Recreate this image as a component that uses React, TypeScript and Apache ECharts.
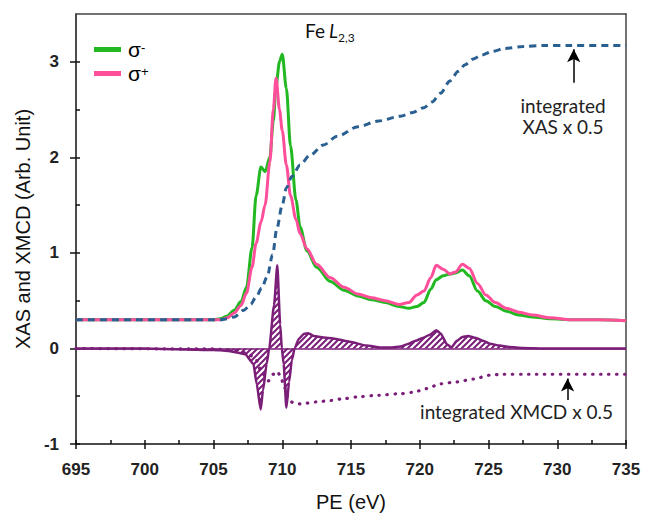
import React, { useEffect, useRef } from "react";
import * as echarts from "echarts";

// ---------- data ----------
const E_XAS = [695, 700, 705, 705.5, 706, 706.5, 707, 707.4, 707.8, 708.1, 708.45, 708.75, 709.1, 709.35, 709.55, 709.8, 710, 710.3, 710.6, 711, 711.3, 711.8, 712.5, 713.5, 714.5, 715.5, 716.5, 717.5, 718.5, 719.2, 719.8, 720.3, 720.8, 721.2, 721.7, 722.2, 722.6, 723.1, 723.6, 724.2, 724.8, 725.5, 726.3, 727.2, 728.2, 729.5, 731, 733, 735];
const SIGMA_MINUS = [0.3, 0.3, 0.3, 0.31, 0.34, 0.4, 0.49, 0.64, 1.05, 1.6, 1.9, 1.85, 2.0, 2.38, 2.75, 3.0, 3.08, 2.72, 2.12, 1.55, 1.27, 1.02, 0.85, 0.7, 0.61, 0.55, 0.51, 0.48, 0.44, 0.42, 0.44, 0.48, 0.62, 0.72, 0.76, 0.78, 0.79, 0.82, 0.76, 0.6, 0.5, 0.44, 0.39, 0.35, 0.33, 0.31, 0.3, 0.3, 0.29];
const SIGMA_PLUS = [0.3, 0.3, 0.3, 0.3, 0.32, 0.37, 0.45, 0.58, 0.85, 1.1, 1.32, 1.5, 1.95, 2.5, 2.83, 2.5, 2.28, 1.92, 1.6, 1.35, 1.2, 1.04, 0.88, 0.74, 0.64, 0.57, 0.53, 0.5, 0.46, 0.48, 0.56, 0.6, 0.74, 0.87, 0.83, 0.78, 0.8, 0.88, 0.84, 0.68, 0.56, 0.48, 0.42, 0.38, 0.35, 0.32, 0.3, 0.3, 0.29];

const E_INT_XAS = [695, 705, 705.5, 706, 706.5, 707.2, 707.7, 708.1, 708.5, 708.9, 709.3, 709.6, 710, 710.3, 710.7, 711.3, 712, 713, 714, 715.5, 717, 718.6, 719.5, 720.3, 720.9, 721.5, 722.2, 722.8, 723.3, 723.9, 724.5, 725.3, 726.2, 727.5, 729, 731, 735];
const INT_XAS = [0.3, 0.3, 0.3, 0.31, 0.33, 0.4, 0.46, 0.54, 0.63, 0.75, 0.98, 1.25, 1.5, 1.68, 1.8, 1.92, 2.02, 2.13, 2.22, 2.32, 2.38, 2.43, 2.47, 2.52, 2.58, 2.67, 2.8, 2.9, 2.97, 3.03, 3.07, 3.11, 3.14, 3.16, 3.17, 3.17, 3.17];

const E_XMCD = [695, 700, 701.5, 703, 704.5, 705.5, 706.2, 706.8, 707.3, 707.9, 708.14, 708.43, 708.6, 708.87, 709.05, 709.4, 709.64, 709.85, 709.97, 710.1, 710.3, 710.5, 710.7, 710.9, 711.2, 711.6, 711.9, 712.3, 713, 713.7, 714.9, 716.1, 717.2, 718, 718.6, 719.2, 719.7, 720.2, 720.7, 721.2, 721.5, 722, 722.3, 722.7, 723.1, 723.5, 724.1, 724.6, 725.1, 725.8, 726.5, 727.5, 729, 735];
const XMCD = [0, 0, -0.005, -0.01, -0.015, -0.02, -0.03, -0.045, -0.06, -0.16, -0.37, -0.64, -0.44, -0.16, 0, 0.45, 0.87, 0.25, 0, -0.16, -0.62, -0.35, -0.12, 0, 0.1, 0.155, 0.16, 0.13, 0.115, 0.105, 0.07, 0.03, 0.01, 0.01, 0.02, 0.05, 0.08, 0.11, 0.14, 0.19, 0.16, 0.04, 0.01, 0.08, 0.12, 0.13, 0.11, 0.08, 0.05, 0.03, 0.015, 0.005, 0, 0];

const E_INT_XMCD = [695, 705, 706.5, 707.5, 708.1, 708.5, 708.98, 709.35, 709.64, 709.9, 710.1, 710.44, 710.8, 711.3, 712.5, 713.5, 714.5, 715.6, 717, 718.5, 719.5, 720.5, 721.5, 722.7, 723.9, 725.1, 726, 728, 735];
const INT_XMCD = [0, -0.005, -0.02, -0.05, -0.12, -0.25, -0.34, -0.27, -0.24, -0.3, -0.38, -0.53, -0.57, -0.58, -0.56, -0.545, -0.525, -0.505, -0.49, -0.475, -0.46, -0.42, -0.37, -0.35, -0.32, -0.28, -0.27, -0.27, -0.27];

const Y_TICKS = [-1, 0, 1, 2, 3];
const Y_MINOR_TICKS = [-1, -0.5, 0, 0.5, 1, 1.5, 2, 2.5, 3];
const X_MINOR_TICKS = [695, 697.5, 700, 702.5, 705, 707.5, 710, 712.5, 715, 717.5, 720, 722.5, 725, 727.5, 730, 732.5, 735];

const ARROW_XAS = [[731.2, 2.78], [731.2, 3.13]];
const ARROW_XMCD = [[730.75, -0.54], [730.75, -0.315]];

const GREEN = "#22b822";
const PINK = "#ff4f9a";
const BLUE = "#2a5f91";
const PURPLE = "#7a1e78";

const zip = (xs: number[], ys: number[]) => xs.map((x, i) => [x, ys[i]]);

export default function App() {
  const ref = useRef<HTMLDivElement>(null);
  useEffect(() => {
    if (!ref.current) return;
    const chart = echarts.init(ref.current, null, { renderer: "svg" });

    const cv = document.createElement("canvas");
    cv.width = 6;
    cv.height = 6;
    const ctx = cv.getContext("2d")!;
    ctx.fillStyle = "#ffffff";
    ctx.fillRect(0, 0, 6, 6);
    ctx.strokeStyle = PURPLE;
    ctx.lineWidth = 2;
    ctx.beginPath();
    ctx.moveTo(-1, 7);
    ctx.lineTo(7, -1);
    ctx.moveTo(-4, 4);
    ctx.lineTo(4, -4);
    ctx.moveTo(2, 10);
    ctx.lineTo(10, 2);
    ctx.stroke();

    const axisFont = { fontFamily: "Liberation Sans", fontSize: 17, fontWeight: "bold" as const, color: "#222" };
    const black = { color: "#111", width: 1.5 };

    const option: any = {
      animation: false,
      backgroundColor: "#fff",
      grid: { left: 76, right: 20, top: 14, bottom: 74, containLabel: false },
      legend: {
        left: 94,
        top: 39,
        padding: 0,
        orient: "vertical",
        itemGap: 3,
        itemWidth: 27,
        itemHeight: 5,
        icon: "rect",
        data: ["σ-", "σ+"],
        formatter: (n: string) => (n === "σ-" ? "{s|σ}{u|-}" : "{s|σ}{u|+}"),
        textStyle: {
          padding: [0, 0, 0, 2],
          rich: {
            s: { fontFamily: "Liberation Sans", fontSize: 21, color: "#000", lineHeight: 18 },
            u: { fontFamily: "Liberation Sans", fontSize: 13, color: "#000", verticalAlign: "top", lineHeight: 18 },
          },
        },
      },
      xAxis: [
        {
          type: "value",
          min: 695,
          max: 735,
          interval: 5,
          position: "bottom",
          name: "PE (eV)",
          nameLocation: "middle",
          nameGap: 48,
          nameTextStyle: { fontFamily: "Liberation Sans", fontSize: 20, color: "#111" },
          axisLine: { show: true, onZero: false, lineStyle: black },
          axisTick: { show: true, inside: false, length: 5, lineStyle: black },
          axisLabel: { ...axisFont, margin: 17 },
          splitLine: { show: false },
        },
        {
          type: "value",
          min: 695,
          max: 735,
          position: "bottom",
          axisLine: { show: false, onZero: false },
          axisTick: { show: true, inside: true, length: 4, lineStyle: black, customValues: X_MINOR_TICKS },
          axisLabel: { show: false },
          splitLine: { show: false },
        },
        {
          type: "value",
          min: 695,
          max: 735,
          position: "top",
          axisLine: { show: true, onZero: false, lineStyle: { color: "#444", width: 1.5 } },
          axisTick: { show: false },
          axisLabel: { show: false },
          splitLine: { show: false },
        },
      ],
      yAxis: [
        {
          type: "value",
          min: -1,
          max: 3.5,
          position: "left",
          name: "XAS and XMCD (Arb. Unit)",
          nameLocation: "middle",
          nameGap: 43,
          nameTextStyle: { fontFamily: "Liberation Sans", fontSize: 20, color: "#111" },
          axisLine: { show: true, onZero: false, lineStyle: black },
          axisTick: { show: true, inside: false, length: 6, lineStyle: black, customValues: Y_TICKS },
          axisLabel: { ...axisFont, margin: 17, customValues: Y_TICKS },
          splitLine: { show: false },
        },
        {
          type: "value",
          min: -1,
          max: 3.5,
          position: "left",
          axisLine: { show: false, onZero: false },
          axisTick: { show: true, inside: true, length: 4, lineStyle: black, customValues: Y_MINOR_TICKS },
          axisLabel: { show: false },
          splitLine: { show: false },
        },
        {
          type: "value",
          min: -1,
          max: 3.5,
          position: "right",
          axisLine: { show: true, onZero: false, lineStyle: { color: "#444", width: 1.5 } },
          axisTick: { show: false },
          axisLabel: { show: false },
          splitLine: { show: false },
        },
      ],
      series: [
        {
          name: "XMCD",
          type: "line",
          data: zip(E_XMCD, XMCD),
          showSymbol: false,
          symbol: "none",
          smooth: 0.2,
          smoothMonotone: "x",
          color: PURPLE,
          lineStyle: { color: PURPLE, width: 2.5 },
          areaStyle: { origin: "auto", color: { image: cv, repeat: "repeat" }, opacity: 1 },
          markLine: {
            silent: true,
            symbol: ["none", "none"],
            label: { show: false },
            lineStyle: { color: PURPLE, width: 1.5, type: "solid" },
            data: [{ yAxis: 0 }],
          },
          z: 2,
        },
        {
          name: "intXMCD",
          type: "line",
          data: zip(E_INT_XMCD, INT_XMCD),
          showSymbol: false,
          symbol: "none",
          smooth: 0.3,
          smoothMonotone: "x",
          color: PURPLE,
          lineStyle: { color: PURPLE, width: 3.2, type: [0.5, 7.5], cap: "round" },
          markLine: {
            silent: true,
            symbol: ["none", "arrow"],
            symbolSize: [10, 13],
            label: { show: false },
            lineStyle: { color: "#000", width: 1.5, type: "solid" },
            data: [[{ coord: ARROW_XMCD[0] }, { coord: ARROW_XMCD[1] }]],
          },
          z: 3,
        },
        {
          name: "σ-",
          type: "line",
          data: zip(E_XAS, SIGMA_MINUS),
          showSymbol: false,
          symbol: "none",
          smooth: 0.3,
          smoothMonotone: "x",
          color: GREEN,
          lineStyle: { color: GREEN, width: 3 },
          z: 4,
        },
        {
          name: "σ+",
          type: "line",
          data: zip(E_XAS, SIGMA_PLUS),
          showSymbol: false,
          symbol: "none",
          smooth: 0.3,
          smoothMonotone: "x",
          color: PINK,
          lineStyle: { color: PINK, width: 3 },
          z: 5,
        },
        {
          name: "intXAS",
          type: "line",
          data: zip(E_INT_XAS, INT_XAS),
          showSymbol: false,
          symbol: "none",
          smooth: 0.3,
          smoothMonotone: "x",
          color: BLUE,
          lineStyle: { color: BLUE, width: 3, type: [7, 5] },
          markLine: {
            silent: true,
            symbol: ["none", "arrow"],
            symbolSize: [10, 13],
            label: { show: false },
            lineStyle: { color: "#000", width: 1.5, type: "solid" },
            data: [[{ coord: ARROW_XAS[0] }, { coord: ARROW_XAS[1] }]],
          },
          z: 6,
        },
      ],
      graphic: [
        { type: "text", left: 305, top: 21, style: { text: "Fe", fontFamily: "Lato", fontSize: 19, fill: "#111" } },
        { type: "text", left: 329, top: 21, style: { text: "L", fontFamily: "Lato", fontStyle: "italic", fontSize: 19, fill: "#111" } },
        { type: "text", left: 338, top: 31, style: { text: "2,3", fontFamily: "Lato", fontSize: 12, fill: "#111" } },
        { type: "text", x: 563, y: 105, style: { text: "integrated", fontFamily: "Lato", fontSize: 19, fill: "#222", align: "center", verticalAlign: "middle" } },
        { type: "text", x: 563, y: 126, style: { text: "XAS x 0.5", fontFamily: "Lato", fontSize: 19, fill: "#222", align: "center", verticalAlign: "middle" } },
        { type: "text", x: 613, y: 411, style: { text: "integrated XMCD x 0.5", fontFamily: "Lato", fontSize: 19, fill: "#222", align: "right", verticalAlign: "middle" } },
      ],
    };
    chart.setOption(option);
    return () => chart.dispose();
  }, []);
  return <div ref={ref} style={{ position: "fixed", left: 0, top: 0, width: 646, height: 518 }} />;
}
